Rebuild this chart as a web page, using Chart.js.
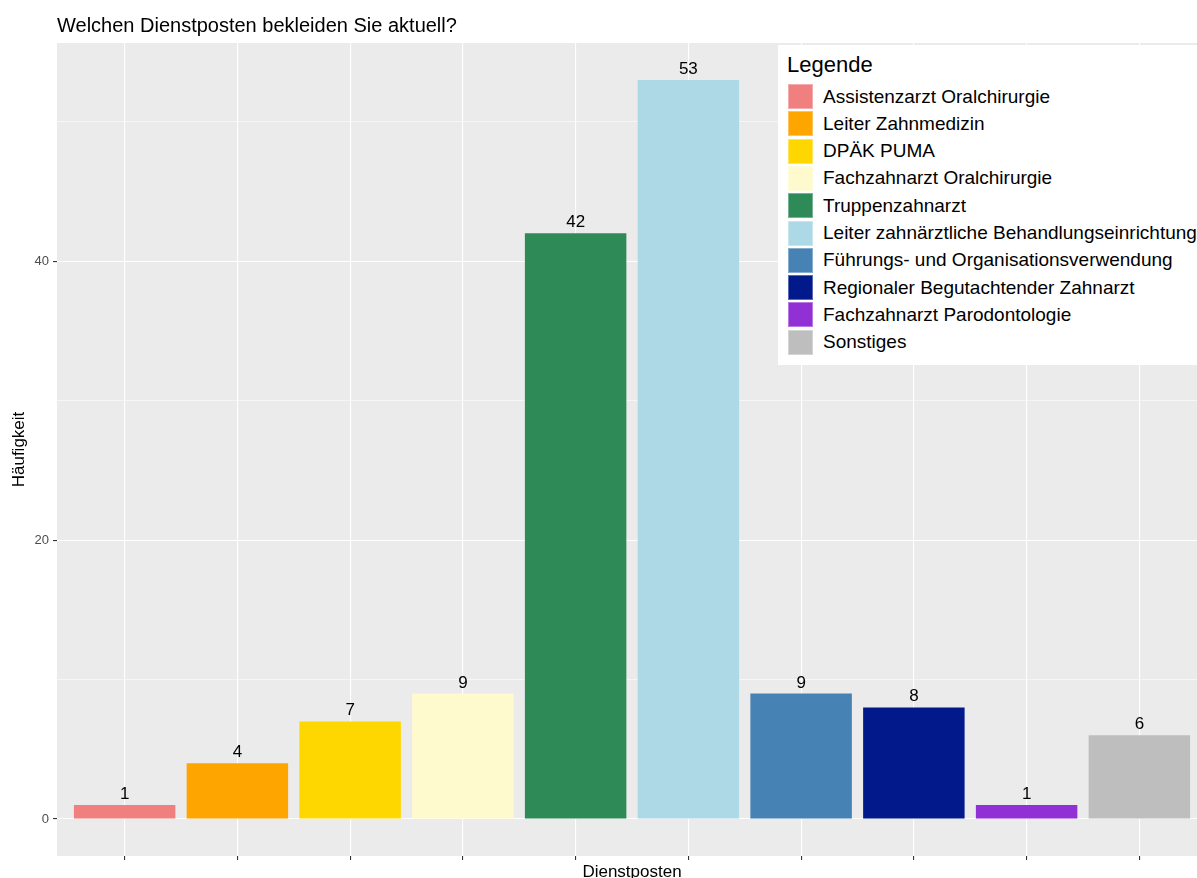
<!DOCTYPE html>
<html>
<head>
<meta charset="utf-8">
<script src="https://cdn.jsdelivr.net/npm/chart.js@4"></script>
<style>
  body { margin: 0; background: #fff; font-family: "Liberation Sans", Arial, sans-serif; }
  #wrap { position: relative; width: 1197px; height: 878px; overflow: hidden; }
  #chart { position: absolute; left: 0; top: 0; }
  #title { position: absolute; left: 57px; top: 15px; font-size: 20px; line-height: 20px; color: #000; white-space: nowrap; }
  #legend { position: absolute; left: 778px; top: 45px; width: 440px; height: 320px; background: #fff; }
  #legend .lt { position: absolute; left: 9px; top: 9px; font-size: 22px; line-height: 22px; color: #000; }
  #legend .row { position: absolute; left: 10px; height: 25px; display: flex; align-items: center; white-space: nowrap; }
  #legend .key { width: 25px; height: 25px; box-sizing: border-box; border: 1px solid rgba(255,255,255,0.35); }
  #legend .lbl { margin-left: 10px; font-size: 19px; color: #000; }
</style>
</head>
<body>
<div id="wrap">
  <canvas id="chart" width="1210" height="878"></canvas>
  <div id="title">Welchen Dienstposten bekleiden Sie aktuell?</div>
  <div id="legend"></div>
</div>
<script>
// Daten
const categories = [
  "Assistenzarzt Oralchirurgie",
  "Leiter Zahnmedizin",
  "DPÄK PUMA",
  "Fachzahnarzt Oralchirurgie",
  "Truppenzahnarzt",
  "Leiter zahnärztliche Behandlungseinrichtung",
  "Führungs- und Organisationsverwendung",
  "Regionaler Begutachtender Zahnarzt",
  "Fachzahnarzt Parodontologie",
  "Sonstiges"
];
const counts = [1, 4, 7, 9, 42, 53, 9, 8, 1, 6];
const barColors = [
  "#F08080", "#FFA500", "#FFD700", "#FFFACD", "#2E8B57",
  "#ADD8E6", "#4682B4", "#02198C", "#9130D5", "#BEBEBE"
];
const yTicks = [0, 10, 20, 30, 40, 50];
const yLabelTicks = [0, 20, 40];

const FONT = "'Liberation Sans', Arial, sans-serif";

/**
 * Legende als HTML aufbauen
 */
function buildLegend() {
  const box = document.getElementById("legend");
  const title = document.createElement("div");
  title.className = "lt";
  title.textContent = "Legende";
  box.appendChild(title);
  categories.forEach((name, i) => {
    const row = document.createElement("div");
    row.className = "row";
    row.style.top = (39 + i * 27.3) + "px";
    const key = document.createElement("div");
    key.className = "key";
    key.style.background = barColors[i];
    const lbl = document.createElement("span");
    lbl.className = "lbl";
    lbl.textContent = name;
    row.appendChild(key);
    row.appendChild(lbl);
    box.appendChild(row);
  });
}

// grauer Panel-Hintergrund wie bei ggplot
const panelBg = {
  id: "panelBg",
  beforeDraw(chart) {
    const { ctx, chartArea: a } = chart;
    ctx.save();
    ctx.fillStyle = "#EBEBEB";
    ctx.fillRect(a.left, a.top, a.right - a.left, a.bottom - a.top);
    ctx.restore();
  }
};

// Werte über den Balken
const valueLabels = {
  id: "valueLabels",
  afterDatasetsDraw(chart) {
    const { ctx } = chart;
    const meta = chart.getDatasetMeta(0);
    ctx.save();
    ctx.font = "17px " + FONT;
    ctx.fillStyle = "#000";
    ctx.textAlign = "center";
    ctx.textBaseline = "alphabetic";
    meta.data.forEach((bar, i) => {
      ctx.fillText(String(counts[i]), bar.x, bar.y - 6);
    });
    ctx.restore();
  }
};

function renderChart() {
  const ctx = document.getElementById("chart").getContext("2d");
  new Chart(ctx, {
    type: "bar",
    data: {
      datasets: [{
        data: counts.map((v, i) => ({ x: i, y: v })),
        backgroundColor: barColors,
        borderWidth: 0,
        barPercentage: 0.9,
        categoryPercentage: 1.0
      }]
    },
    options: {
      responsive: false,
      animation: false,
      layout: { padding: { top: 43, right: 3, left: 0, bottom: 0 } },
      plugins: {
        legend: { display: false },
        tooltip: { enabled: false }
      },
      scales: {
        x: {
          type: "linear",
          offset: false,
          min: -0.6,
          max: categories.length - 0.4,
          afterBuildTicks: (scale) => { scale.ticks = categories.map((c, i) => ({ value: i })); },
          afterFit: (scale) => { scale.height = 22; },
          ticks: { callback: () => "", padding: 0 },
          grid: { offset: false, color: "#FFFFFF", lineWidth: 1.1, tickColor: "#333333", tickLength: 4, tickWidth: 1.1 },
          border: { display: false },
          title: {
            display: true,
            text: "Dienstposten",
            color: "#000",
            font: { family: FONT, size: 17, lineHeight: 1 },
            padding: { top: 0, bottom: -3 }
          }
        },
        y: {
          min: -2.65,
          max: 55.65,
          afterBuildTicks: (scale) => { scale.ticks = yTicks.map(v => ({ value: v })); },
          afterFit: (scale) => { scale.width = 57; },
          ticks: {
            padding: 4,
            color: "#4D4D4D",
            font: { family: FONT, size: 13 },
            callback: (v) => (yLabelTicks.includes(v) ? String(v) : "")
          },
          grid: {
            color: "#FFFFFF",
            lineWidth: (c) => (c.tick && yLabelTicks.includes(c.tick.value) ? 1.1 : 0.55),
            tickColor: (c) => (c.tick && yLabelTicks.includes(c.tick.value) ? "#333333" : "rgba(0,0,0,0)"),
            tickLength: 4,
            tickWidth: 1.1
          },
          border: { display: false },
          title: {
            display: true,
            text: "Häufigkeit",
            color: "#000",
            font: { family: FONT, size: 17 },
            padding: { top: 9, bottom: 0 }
          }
        }
      }
    },
    plugins: [panelBg, valueLabels]
  });
}

document.addEventListener("DOMContentLoaded", () => {
  buildLegend();
  renderChart();
});
</script>
</body>
</html>
